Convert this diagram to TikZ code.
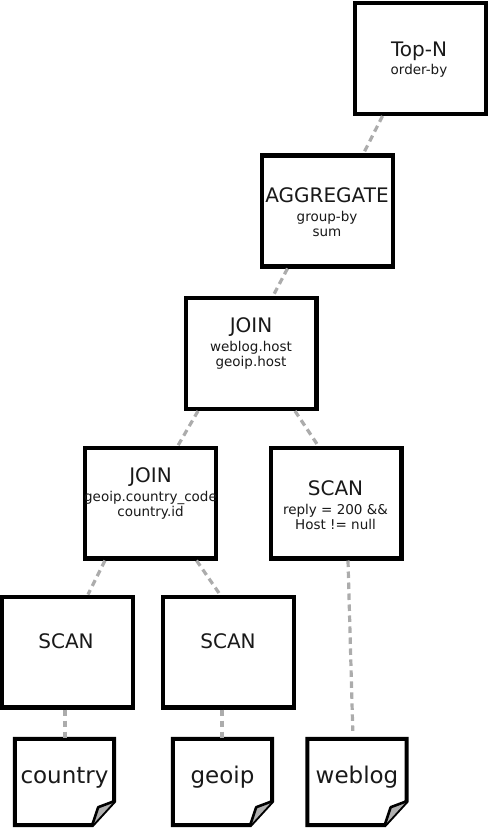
\documentclass[tikz,border=0pt]{standalone}
\usepackage{fontspec}
\setmainfont{DejaVu Sans}
\usepackage{xcolor}
\usepackage{tikz}
\usetikzlibrary{positioning,calc}
\definecolor{linkgray}{RGB}{172,172,172}
\definecolor{foldgray}{RGB}{175,175,175}
\definecolor{inkblack}{RGB}{25,25,25}
\newcommand{\optitle}[1]{{\fontsize{20}{24}\selectfont #1}}

\begin{document}
\begin{tikzpicture}[x=1pt, y=-1pt]
    \tikzstyle{opbox}=[draw=black, line width=4.4pt, fill=white, minimum width=130.6pt, minimum height=110.6pt, inner sep=0pt]
    \tikzstyle{optext}=[anchor=base, align=center, inner sep=0pt, text=inkblack, font=\fontsize{13.5}{15}\selectfont]
    \tikzstyle{doc}=[minimum width=99pt, minimum height=86pt, inner sep=0pt, text height=13pt, text depth=11pt, text=inkblack, font=\fontsize{23}{23}\selectfont]
    \tikzstyle{link}=[linkgray, line width=3.2pt, dash pattern=on 6.5pt off 4.5pt]
    \useasboundingbox (0,0) rectangle (489,829);

    % operators
    \node[opbox] (topn) at (420.5,58.5) {};
    \node[opbox] (agg) at (327.5,211) {};
    \node[opbox] (joinhost) at (251,353.5) {};
    \node[opbox] (joincountry) at (150.5,503) {};
    \node[opbox] (scanlog) at (336,503) {};
    \node[opbox] (scancountry) at (67.5,652) {};
    \node[opbox] (scangeo) at (228.5,652) {};

    % base = last line
    \node[optext] at (419,75) {\optitle{Top-N}\\[3.5pt]order-by};
    \node[optext] at (327,236) {\optitle{AGGREGATE}\\[3.5pt]group-by\\sum};
    \node[optext] at (251,366) {\optitle{JOIN}\\[3.5pt]weblog.host\\geoip.host};
    \node[optext] at (150.5,516) {\optitle{JOIN}\\[3.5pt]geoip.country\_code\\country.id};
    \node[optext] at (335.5,529) {\optitle{SCAN}\\[3.5pt]reply = 200 \&\&\\Host != null};
    \node[optext] at (66,648) {\optitle{SCAN}};
    \node[optext] at (228,648) {\optitle{SCAN}};

    % tables
    \node[doc] (country) at (64.5,782) {country};
    \node[doc] (geoip) at (222.5,782) {geoip};
    \node[doc] (weblog) at (357,782) {weblog};
    \foreach \d in {country,geoip,weblog} {
      \draw[line width=4pt] (\d.north west) -- (\d.north east) -- ([yshift=24pt]\d.south east)
        -- ([xshift=-22pt]\d.south east) -- (\d.south west) -- cycle;
      \draw[line width=2.6pt, line join=round, fill=foldgray] ([yshift=24pt]\d.south east)
        -- ([xshift=-16pt,yshift=18pt]\d.south east) -- ([xshift=-22pt]\d.south east);
    }

    % plan edges
    \draw[link] ([xshift=-38pt]topn.south) -- ([xshift=36pt]agg.north);
    \draw[link] ([xshift=-40pt]agg.south) -- ([xshift=22pt]joinhost.north);
    \draw[link] ([xshift=-53pt]joinhost.south) -- ([xshift=27.5pt]joincountry.north);
    \draw[link] ([xshift=44pt]joinhost.south) -- ([xshift=-18pt]scanlog.north);
    \draw[link] ([xshift=-45.5pt]joincountry.south) -- ([xshift=20.5pt]scancountry.north);
    \draw[link] ([xshift=46pt]joincountry.south) -- ([xshift=-8.5pt]scangeo.north);
    \draw[link] ([xshift=-2.5pt]scancountry.south) -- ([xshift=0.5pt]country.north);
    \draw[link] ([xshift=-6.5pt]scangeo.south) -- ([xshift=-0.5pt]geoip.north);
    \draw[link, shorten >=8pt] ([xshift=12pt]scanlog.south) -- ([xshift=-4pt]weblog.north);
\end{tikzpicture}
\end{document}
